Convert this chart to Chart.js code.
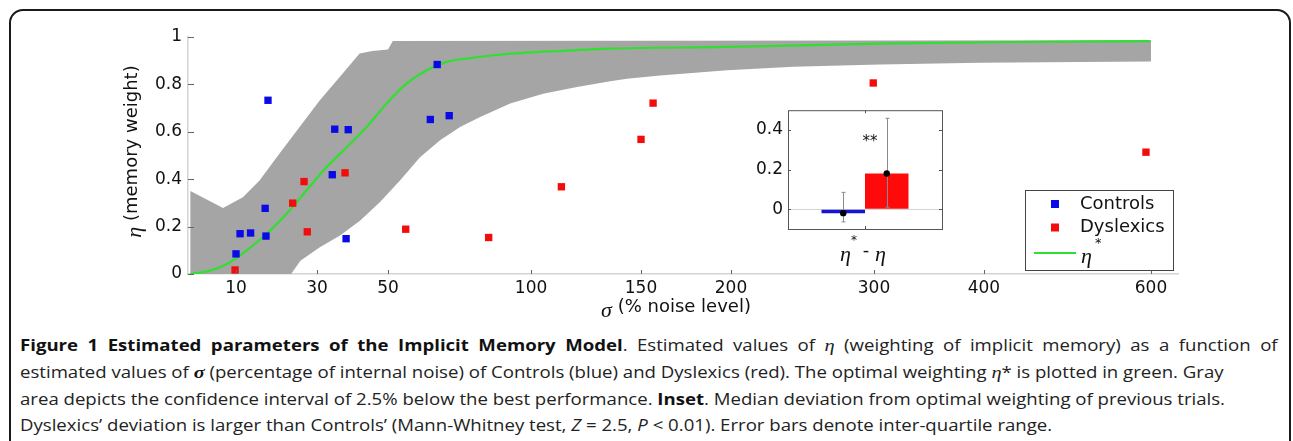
<!DOCTYPE html>
<html>
<head>
<meta charset="utf-8">
<script src="https://cdn.jsdelivr.net/npm/chart.js@4.4.1/dist/chart.umd.min.js"></script>
<style>
  body { margin: 0; background: #fff; width: 1293px; height: 441px; overflow: hidden; position: relative; }
  #frame { position: absolute; left: 9px; top: 9px; width: 1282px; height: 480px; border: 2px solid #1a1a1a; border-radius: 14px; box-sizing: border-box; }
  #main { position: absolute; left: 0; top: 0; }
  #inset { position: absolute; left: 730px; top: 95px; }
  #caption { position: absolute; left: 20px; top: 332px; font-family: "Open Sans", sans-serif; font-size: 15.5px; line-height: 26px; color: #222; white-space: nowrap; transform: scaleX(1.2); transform-origin: 0 0; }
  #caption .l1 { width: 1048px; text-align: justify; text-align-last: justify; }
  #caption b { color: #111; }
  #caption .g { font-family: "Liberation Serif", serif; font-style: italic; font-size: 17px; }
</style>
</head>
<body>
<div id="frame"></div>
<canvas id="main" width="1293" height="320"></canvas>
<canvas id="inset" width="230" height="180"></canvas>
<div id="caption">
  <div class="l1"><b>Figure 1 Estimated parameters of the Implicit Memory Model</b>. Estimated values of <span class="g">η</span> (weighting of implicit memory) as a function of</div>
  <div>estimated values of <b class="g">σ</b> (percentage of internal noise) of Controls (blue) and Dyslexics (red). The optimal weighting <span class="g">η</span>* is plotted in green. Gray</div>
  <div>area depicts the confidence interval of 2.5% below the best performance. <b>Inset</b>. Median deviation from optimal weighting of previous trials.</div>
  <div>Dyslexics’ deviation is larger than Controls’ (Mann-Whitney test, <i>Z</i> = 2.5, <i>P</i> &lt; 0.01). Error bars denote inter-quartile range.</div>
</div>
<script>
// ---- data ----
const X_TICKS = [10, 30, 50, 100, 150, 200, 300, 400, 600];
const Y_TICKS = [0, 0.2, 0.4, 0.6, 0.8, 1];

const CONTROLS_SIGMA = [10, 11.0, 13.6, 17.2, 17.4, 17.9, 34.3, 35.0, 38.8, 38.2, 64.8, 67.2, 71.4];
const CONTROLS_ETA = [0.085, 0.17, 0.173, 0.277, 0.16, 0.733, 0.419, 0.611, 0.609, 0.149, 0.652, 0.884, 0.668];

const DYSLEXICS_SIGMA = [9.8, 24.0, 26.8, 27.6, 37.9, 56.2, 85.2, 113.8, 150, 156.7, 299.5, 594];
const DYSLEXICS_ETA = [0.017, 0.299, 0.39, 0.178, 0.427, 0.189, 0.154, 0.368, 0.568, 0.721, 0.806, 0.514];

const OPTIMAL_SIGMA = [0.5, 4.6, 8.1, 12.6, 17.5, 22.5, 27.4, 32.7, 38.4, 44.0, 49.6, 56.5, 63.5, 70.5, 77.5, 86.8, 98.5, 113.2, 135.9, 197.8, 305.5, 434.7, 599];
const OPTIMAL_ETA = [0, 0.014, 0.042, 0.099, 0.169, 0.254, 0.352, 0.451, 0.535, 0.62, 0.719, 0.803, 0.86, 0.895, 0.909, 0.923, 0.934, 0.941, 0.951, 0.958, 0.972, 0.979, 0.983];

// confidence band (2.5% below best performance)
const BAND_HI_SIGMA = [0.5, 7.3, 11.7, 15.8, 20.7, 25.7, 30.8, 36.4, 42.0, 45.6, 50, 51.7, 600];
const BAND_HI_ETA = [0.35, 0.279, 0.324, 0.394, 0.507, 0.62, 0.733, 0.831, 0.93, 0.941, 0.947, 0.983, 0.986];
const BAND_LO_SIGMA = [0.5, 23.6, 25.9, 30.8, 36.5, 42.1, 47.7, 54.2, 61.2, 68.2, 75.2, 82.2, 92.7, 105.5, 120.9, 136, 143.6, 160.6, 197.8, 243.4, 305.5, 396, 515, 600];
const BAND_LO_ETA = [0, 0, 0.056, 0.113, 0.162, 0.225, 0.303, 0.394, 0.493, 0.564, 0.62, 0.662, 0.719, 0.761, 0.789, 0.813, 0.824, 0.838, 0.86, 0.874, 0.884, 0.891, 0.895, 0.897];

// inset: median deviation eta* - eta
const INSET_GROUPS = ['Controls', 'Dyslexics'];
const INSET_MEDIAN = [-0.02, 0.18];
const INSET_Q1 = [-0.064, 0.01];
const INSET_Q3 = [0.085, 0.459];
const INSET_TICKS = [0, 0.2, 0.4];

// ---- styling ----
const BLUE = '#0a0ae6';
const RED = '#f20c0c';
const GREEN = '#2fe02f';
const GRAY = '#a5a5a5';
const TICK_FONT = { family: 'DejaVu Sans', size: 17 };

// the x axis of the original is warped (not linear, not log): map sigma
// through the tick marks' relative positions along the axis
const WARP_VALUES = [0, 10, 30, 50, 100, 150, 200, 300, 400, 600, 632];
const WARP_DECIMALS = [0, 0.0485, 0.1303, 0.2020, 0.3465, 0.4576, 0.5485, 0.6929, 0.8040, 0.9727, 1];

const interp = (v, xs, ys) => {
  if (v <= xs[0]) return ys[0];
  for (let i = 1; i < xs.length; i++) {
    if (v <= xs[i]) return ys[i - 1] + (v - xs[i - 1]) * (ys[i] - ys[i - 1]) / (xs[i] - xs[i - 1]);
  }
  return ys[ys.length - 1];
};

class WarpScale extends Chart.LinearScale {
  buildTicks() {
    this.start = this.min;
    this.end = this.max;
    return X_TICKS.map((v) => ({ value: v }));
  }
  getPixelForValue(value) {
    return this.getPixelForDecimal(interp(value, WARP_VALUES, WARP_DECIMALS));
  }
  getValueForPixel(pixel) {
    return interp(this.getDecimalForPixel(pixel), WARP_DECIMALS, WARP_VALUES);
  }
}
WarpScale.id = 'warp';
WarpScale.defaults = Chart.LinearScale.defaults;
Chart.register(WarpScale);

const zip = (xs, ys) => xs.map((x, i) => ({ x, y: ys[i] }));
const bandPolygon = zip(BAND_HI_SIGMA, BAND_HI_ETA).concat(zip(BAND_LO_SIGMA, BAND_LO_ETA).reverse());

// draws a run of [text, font, dy] pieces centred on (x, y)
const drawRich = (ctx, parts, x, y) => {
  let w = 0;
  parts.forEach((p) => { ctx.font = p[1]; w += ctx.measureText(p[0]).width; });
  let cx = x - w / 2;
  parts.forEach((p) => {
    ctx.font = p[1];
    ctx.fillText(p[0], cx, y + (p[2] || 0));
    cx += ctx.measureText(p[0]).width;
  });
};

const mainDecor = {
  id: 'mainDecor',
  afterDraw(chart) {
    const { ctx, chartArea: a, scales: { x, y } } = chart;
    ctx.save();
    // inward tick marks
    ctx.strokeStyle = '#666';
    ctx.lineWidth = 1;
    ctx.beginPath();
    x.ticks.forEach((t) => {
      const px = Math.round(x.getPixelForValue(t.value)) + 0.5;
      ctx.moveTo(px, a.bottom);
      ctx.lineTo(px, a.bottom - 4);
    });
    y.ticks.forEach((t) => {
      const py = Math.round(y.getPixelForValue(t.value)) + 0.5;
      ctx.moveTo(a.left, py);
      ctx.lineTo(a.left + 6, py);
    });
    ctx.stroke();

    // axis titles
    ctx.fillStyle = '#111';
    ctx.textBaseline = 'middle';
    ctx.textAlign = 'left';
    drawRich(ctx, [
      ['σ', 'italic 22px "Liberation Serif"', 4],
      [' (% noise level)', '18px "DejaVu Sans"'],
    ], (a.left + a.right) / 2 - 7, a.bottom + 33);

    ctx.save();
    ctx.translate(a.left - 56, (a.top + a.bottom) / 2 - 4);
    ctx.rotate(-Math.PI / 2);
    drawRich(ctx, [
      ['η', 'italic 22px "Liberation Serif"', 3],
      [' (memory weight)', '18px "DejaVu Sans"'],
    ], 0, 0);
    ctx.restore();

    // legend box inside the axes
    const lx = a.right - 153, ly = 190, lw = 148, lh = 80;
    ctx.fillStyle = '#fff';
    ctx.fillRect(lx, ly, lw, lh);
    ctx.strokeStyle = '#444';
    ctx.strokeRect(lx + 0.5, ly + 0.5, lw, lh);
    const ds = chart.data.datasets;
    [ds[0], ds[1]].forEach((d, i) => {
      const ry = ly + 14 + i * 23.5;
      ctx.fillStyle = d.backgroundColor;
      ctx.fillRect(lx + 26, ry - 4, 8, 8);
      ctx.fillStyle = '#111';
      ctx.font = '18px "DejaVu Sans"';
      ctx.fillText(d.label, lx + 55, ry);
    });
    ctx.strokeStyle = ds[2].borderColor;
    ctx.lineWidth = 2;
    ctx.beginPath();
    ctx.moveTo(lx + 9, ly + 63);
    ctx.lineTo(lx + 51, ly + 63);
    ctx.stroke();
    ctx.fillStyle = '#111';
    ctx.font = 'italic 22px "Liberation Serif"';
    ctx.fillText('η', lx + 56, ly + 67);
    ctx.font = '13px "DejaVu Sans"';
    ctx.fillText('*', lx + 70, ly + 54);
    ctx.restore();
  },
};

new Chart(document.getElementById('main'), {
  type: 'scatter',
  data: {
    datasets: [
      {
        label: 'Controls',
        data: zip(CONTROLS_SIGMA, CONTROLS_ETA),
        pointStyle: 'rect',
        pointRadius: 5.2,
        borderWidth: 0,
        backgroundColor: BLUE,
        order: 0,
      },
      {
        label: 'Dyslexics',
        data: zip(DYSLEXICS_SIGMA, DYSLEXICS_ETA),
        pointStyle: 'rect',
        pointRadius: 5.2,
        borderWidth: 0,
        backgroundColor: RED,
        order: 1,
      },
      {
        label: 'η*',
        data: zip(OPTIMAL_SIGMA, OPTIMAL_ETA),
        showLine: true,
        pointRadius: 0,
        borderColor: GREEN,
        borderWidth: 2.2,
        cubicInterpolationMode: 'monotone',
        order: 2,
      },
      {
        label: 'band',
        data: bandPolygon,
        showLine: true,
        pointRadius: 0,
        borderWidth: 0,
        borderColor: GRAY,
        backgroundColor: GRAY,
        fill: 'shape',
        order: 3,
      },
    ],
  },
  options: {
    responsive: false,
    devicePixelRatio: 1,
    animation: false,
    events: [],
    layout: { padding: { top: 37, right: 115, left: 0, bottom: 0 } },
    plugins: { legend: { display: false }, tooltip: { enabled: false } },
    scales: {
      x: {
        type: 'warp',
        min: 0,
        max: 632,
        grid: { display: false, drawTicks: false },
        border: { display: true, color: '#d4d4d4', width: 1.5 },
        ticks: { font: TICK_FONT, color: '#111', padding: 4, autoSkip: false, maxRotation: 0 },
        afterFit: (s) => { s.height = 46; },
      },
      y: {
        min: 0,
        max: 1,
        grid: { display: false, drawTicks: false },
        border: { display: true, color: '#d4d4d4', width: 1.5 },
        afterBuildTicks: (s) => { s.ticks = Y_TICKS.map((v) => ({ value: v })); },
        ticks: { font: TICK_FONT, color: '#111', padding: 6, callback: (v) => String(+Number(v).toFixed(1)) },
        afterFit: (s) => { s.width = 188; },
      },
    },
  },
  plugins: [mainDecor],
});

// ---- inset bar chart ----
const insetDecor = {
  id: 'insetDecor',
  beforeDraw(chart) {
    const { ctx, chartArea: a } = chart;
    ctx.save();
    ctx.fillStyle = '#fff';
    ctx.fillRect(a.left, a.top, a.width, a.height);
    ctx.restore();
  },
  afterDatasetsDraw(chart) {
    const { ctx, scales: { y } } = chart;
    ctx.save();
    INSET_GROUPS.forEach((g, i) => {
      const bar = chart.getDatasetMeta(i).data[0];
      const bx = Math.round(bar.x) + 0.5;
      const top = y.getPixelForValue(INSET_Q3[i]);
      const bot = y.getPixelForValue(INSET_Q1[i]);
      ctx.strokeStyle = '#8a8a8a';
      ctx.lineWidth = 1;
      ctx.beginPath();
      ctx.moveTo(bx, top);
      ctx.lineTo(bx, bot);
      ctx.moveTo(bx - 2, top);
      ctx.lineTo(bx + 2, top);
      ctx.moveTo(bx - 2, bot);
      ctx.lineTo(bx + 2, bot);
      ctx.stroke();
      ctx.fillStyle = '#000';
      ctx.beginPath();
      ctx.arc(bar.x, y.getPixelForValue(INSET_MEDIAN[i]), 3.2, 0, Math.PI * 2);
      ctx.fill();
    });
    ctx.restore();
  },
  afterDraw(chart) {
    const { ctx, chartArea: a, scales: { y } } = chart;
    const cx = (a.left + a.right) / 2;
    ctx.save();
    ctx.strokeStyle = '#555';
    ctx.lineWidth = 1;
    ctx.strokeRect(a.left + 0.5, a.top + 0.5, a.width, a.height);
    ctx.beginPath();
    y.ticks.forEach((t) => {
      const py = Math.round(y.getPixelForValue(t.value)) + 0.5;
      ctx.moveTo(a.left, py); ctx.lineTo(a.left + 3, py);
      ctx.moveTo(a.right, py); ctx.lineTo(a.right - 3, py);
    });
    ctx.moveTo(Math.round(cx) + 0.5, a.top); ctx.lineTo(Math.round(cx) + 0.5, a.top + 3);
    ctx.moveTo(Math.round(cx) + 0.5, a.bottom); ctx.lineTo(Math.round(cx) + 0.5, a.bottom - 3);
    ctx.stroke();

    ctx.fillStyle = '#111';
    ctx.textBaseline = 'middle';
    ctx.textAlign = 'center';
    ctx.font = '15px "DejaVu Sans"';
    ctx.fillText('**', cx + 5, y.getPixelForValue(0.34));

    ctx.textAlign = 'left';
    drawRich(ctx, [
      ['η', 'italic 22px "Liberation Serif"', 2],
      ['*', '12px "DejaVu Sans"', -12],
      [' - ', '18px "DejaVu Sans"', -2],
      ['η', 'italic 22px "Liberation Serif"', 2],
    ], cx - 2, a.bottom + 24);
    ctx.restore();
  },
};

new Chart(document.getElementById('inset'), {
  type: 'bar',
  data: {
    labels: [''],
    datasets: [
      { label: INSET_GROUPS[0], data: [INSET_MEDIAN[0]], backgroundColor: '#1414d2' },
      { label: INSET_GROUPS[1], data: [INSET_MEDIAN[1]], backgroundColor: '#ff0a0a' },
    ],
  },
  options: {
    responsive: false,
    devicePixelRatio: 1,
    animation: false,
    events: [],
    categoryPercentage: 0.565,
    barPercentage: 1,
    layout: { padding: { top: 9, right: 18, left: 0, bottom: 0 } },
    plugins: { legend: { display: false }, tooltip: { enabled: false } },
    scales: {
      x: {
        grid: { display: false, drawTicks: false },
        border: { display: false },
        ticks: { display: false },
        afterFit: (s) => { s.height = 46; },
      },
      y: {
        min: -0.1,
        max: 0.5,
        border: { display: false },
        grid: { drawTicks: false, color: (c) => (c.tick && c.tick.value === 0 ? '#d6d6d6' : 'rgba(0,0,0,0)') },
        afterBuildTicks: (s) => { s.ticks = INSET_TICKS.map((v) => ({ value: v })); },
        ticks: { font: TICK_FONT, color: '#111', padding: 5, callback: (v) => String(+Number(v).toFixed(1)) },
        afterFit: (s) => { s.width = 58; },
      },
    },
  },
  plugins: [insetDecor],
});
</script>
</body>
</html>
